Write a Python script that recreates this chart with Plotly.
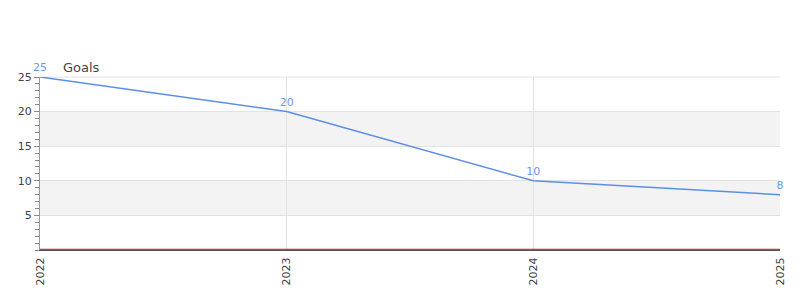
import plotly.graph_objects as go

years = ["2022", "2023", "2024", "2025"]
goals = [25, 20, 10, 8]
y_ticks = [5, 10, 15, 20, 25]
bands = [(5, 10), (15, 20)]

fig = go.Figure()
fig.add_trace(go.Scatter(
    x=years, y=goals, mode="lines+markers+text",
    text=[str(v) for v in goals], textposition="top center",
    textfont=dict(color="#6f9ae6", size=11, family="DejaVu Sans"),
    line=dict(color="#5b8ee6", width=1.5),
    marker=dict(size=3, opacity=0),
    cliponaxis=False, showlegend=False, hoverinfo="x+y",
))

shapes = []
for lo, hi in bands:
    shapes.append(dict(type="rect", xref="paper", yref="y", x0=0, x1=1, y0=lo, y1=hi,
                       fillcolor="#f3f3f3", line=dict(width=0), layer="below"))
shapes.append(dict(type="line", xref="paper", yref="y", x0=0, x1=1, y0=0.1, y1=0.1,
                   line=dict(color="#cc0000", width=1), layer="above"))
shapes.append(dict(type="line", xref="paper", yref="paper", x0=0, x1=1, y0=1, y1=1,
                   line=dict(color="#e2e2e2", width=1), layer="below"))
fig.update_layout(
    width=800, height=300,
    margin=dict(l=40, r=20, t=77, b=50),
    paper_bgcolor="white", plot_bgcolor="white",
    font=dict(family="DejaVu Sans", size=11, color="#444"),
    shapes=shapes,
    annotations=[dict(text="Goals", xref="paper", yref="paper", x=0.028, y=1.0,
                      xanchor="left", yanchor="bottom", yshift=0, showarrow=False,
                      font=dict(size=13, color="#444"))],
    xaxis=dict(type="category", range=[0, 3], tickangle=-90, showgrid=True,
               gridcolor="#e2e2e2", showline=True, linecolor="#555", linewidth=1,
               ticks="outside", ticklen=2, tickcolor="rgba(0,0,0,0)",
               zeroline=False, tickfont=dict(size=11, color="#444")),
    yaxis=dict(range=[0, 25], tickvals=y_ticks, showgrid=True, gridcolor="#e2e2e2",
               showline=True, linecolor="#999", linewidth=1, ticks="outside",
               ticklen=5, tickcolor="#888", zeroline=False,
               minor=dict(dtick=1, ticks="outside", ticklen=4, tickcolor="#888", showgrid=False),
               tickfont=dict(size=11, color="#444")),
)
fig.write_html("out.html")
